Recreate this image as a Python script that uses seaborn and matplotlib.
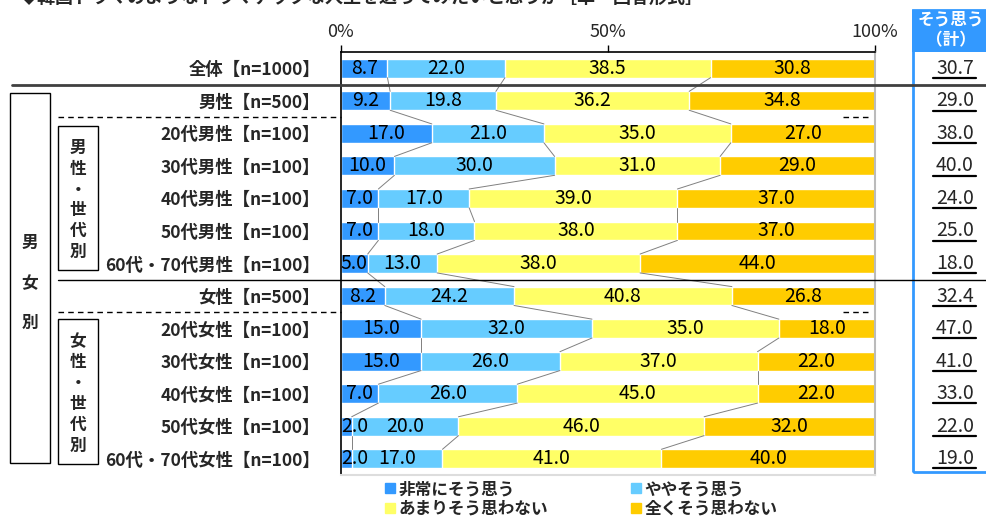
import matplotlib
matplotlib.use("Agg")
import matplotlib.pyplot as plt
import matplotlib.patches as mpatches
import matplotlib.transforms as mtransforms
from matplotlib.lines import Line2D
import seaborn as sns
import numpy as np

# Data
rows = ["全体【n=1000】", "男性【n=500】", "20代男性【n=100】", "30代男性【n=100】",
        "40代男性【n=100】", "50代男性【n=100】", "60代・70代男性【n=100】",
        "女性【n=500】", "20代女性【n=100】", "30代女性【n=100】",
        "40代女性【n=100】", "50代女性【n=100】", "60代・70代女性【n=100】"]
very = [8.7, 9.2, 17.0, 10.0, 7.0, 7.0, 5.0, 8.2, 15.0, 15.0, 7.0, 2.0, 2.0]
some = [22.0, 19.8, 21.0, 30.0, 17.0, 18.0, 13.0, 24.2, 32.0, 26.0, 26.0, 20.0, 17.0]
notmuch = [38.5, 36.2, 35.0, 31.0, 39.0, 38.0, 38.0, 40.8, 35.0, 37.0, 45.0, 46.0, 41.0]
never = [30.8, 34.8, 27.0, 29.0, 37.0, 37.0, 44.0, 26.8, 18.0, 22.0, 22.0, 32.0, 40.0]
agree_total = [30.7, 29.0, 38.0, 40.0, 24.0, 25.0, 18.0, 32.4, 47.0, 41.0, 33.0, 22.0, 19.0]
series_names = ["非常にそう思う", "ややそう思う", "あまりそう思わない", "全くそう思わない"]
colors = ["#3399FF", "#66CCFF", "#FFFF66", "#FFCC00"]
title = "◆韓国ドラマのようなドラマチックな人生を送ってみたいと思うか［単一回答形式］"

sns.set_style("white")
plt.rcParams["font.family"] = ["Noto Sans CJK JP", "DejaVu Sans"]

W, H = 987, 517
fx = lambda x: x / W
fy = lambda y: 1 - y / H

fig = plt.figure(figsize=(W / 100, H / 100), dpi=100)
ax = fig.add_axes([fx(341), fy(475), (875 - 341) / W, (475 - 52) / H])

vals = np.array([very, some, notmuch, never])
cum = np.cumsum(vals, axis=0)
bar_h = 0.58

# stacked bars: draw cumulative totals from the outside in
for k in range(3, -1, -1):
    sns.barplot(x=cum[k], y=rows, orient="h", color=colors[k], saturation=1,
                width=bar_h, ax=ax, zorder=2)

ax.set_xlim(0, 100)
ax.set_ylim(len(rows) - 0.5, -0.5)
ax.set_xlabel("")
ax.set_ylabel("")

# value labels inside the segments
for i in range(len(rows)):
    for k in range(4):
        left = cum[k][i] - vals[k][i]
        xc = max(left + vals[k][i] / 2, 2.5)
        ax.text(xc, i, f"{vals[k][i]:.1f}", ha="center", va="center",
                fontsize=14, color="black", zorder=5)

# connector lines between bars
for i in range(len(rows) - 1):
    for k in range(3):
        ax.plot([cum[k][i], cum[k][i + 1]], [i + bar_h / 2, i + 1 - bar_h / 2],
                color="#808080", lw=0.7, zorder=3)

# axes styling
ax.xaxis.tick_top()
ax.set_xticks([0, 50, 100])
ax.set_xticklabels(["0%", "50%", "100%"], fontsize=13)
ax.tick_params(axis="x", direction="out", length=5, width=1, color="black", pad=3)
ax.tick_params(axis="y", length=0, pad=15, labelsize=12.5)
for lab in ax.get_yticklabels():
    lab.set_fontweight("bold")
ax.set_yticks(np.arange(len(rows) - 1) + 0.5, minor=True)
ax.tick_params(axis="y", which="minor", direction="in", length=4, width=1, color="black")
ax.spines["top"].set_color("black")
ax.spines["top"].set_linewidth(1.2)
ax.spines["left"].set_color("black")
ax.spines["left"].set_linewidth(1.2)
ax.spines["right"].set_color("#BBBBBB")
ax.spines["right"].set_linewidth(1.5)
ax.spines["bottom"].set_color("#DDDDDD")
ax.spines["bottom"].set_linewidth(1.5)
ax.grid(False)

# separators (figure x, data y)
trans = mtransforms.blended_transform_factory(fig.transFigure, ax.transData)
fig.add_artist(Line2D([fx(12), fx(987)], [0.5, 0.5], transform=trans, color="#404040", lw=2, zorder=4))
fig.add_artist(Line2D([fx(58), fx(987)], [6.5, 6.5], transform=trans, color="black", lw=1, zorder=4))
for b in [1.5, 7.5]:
    fig.add_artist(Line2D([fx(58), fx(341)], [b, b], transform=trans, color="black",
                          lw=1, ls=(0, (4, 3)), zorder=4))
    fig.add_artist(Line2D([fx(843), fx(872)], [b, b], transform=trans, color="black",
                          lw=1, ls=(0, (4, 3)), zorder=4))

# group boxes on the left
fig.add_artist(mpatches.Rectangle((fx(10), fy(463)), (50 - 10) / W, (463 - 93) / H,
                                  transform=fig.transFigure, fill=False, ec="black", lw=1))
fig.text(fx(30), fy(283), "男\n女\n別", ha="center", va="center", fontsize=12,
         fontweight="bold", linespacing=2.6)
for top, bot, ch in [(126, 270, "男"), (319, 464, "女")]:
    fig.add_artist(mpatches.Rectangle((fx(58), fy(bot)), (98 - 58) / W, (bot - top) / H,
                                      transform=fig.transFigure, fill=False, ec="black", lw=1))
    fig.text(fx(78), fy((top + bot) / 2 + 2), f"{ch}\n性\n・\n世\n代\n別", ha="center",
             va="center", fontsize=12, fontweight="bold", linespacing=1.2)

# right column: そう思う（計）
fig.add_artist(mpatches.Rectangle((fx(912), fy(52)), (987 - 912) / W, (52 - 10) / H,
                                  transform=fig.transFigure, color="#3399FF", lw=0))
fig.add_artist(mpatches.Rectangle((fx(913), fy(472)), (1000 - 913) / W, (472 - 10) / H,
                                  transform=fig.transFigure, fill=False, ec="#3399FF", lw=2))
fig.text(fx(951), fy(19), "そう思う", ha="center", va="center", fontsize=12,
         fontweight="bold", color="white")
fig.text(fx(951), fy(40), "（計）", ha="center", va="center", fontsize=12,
         fontweight="bold", color="white")
for i, v in enumerate(agree_total):
    fig.text(fx(955), i, f"{v:.1f}", transform=trans, ha="center", va="center", fontsize=14)
    fig.add_artist(Line2D([fx(933), fx(976)], [i + 0.3, i + 0.3], transform=trans,
                          color="black", lw=1.6))

# title (cut off at the top like the source image)
fig.text(fx(20), fy(7), title, ha="left", va="bottom", fontsize=13, fontweight="bold")

# legend
handles = [mpatches.Patch(color=c) for c in colors]
order = [0, 2, 1, 3]
fig.legend([handles[j] for j in order], [series_names[j] for j in order],
           loc="upper left", bbox_to_anchor=(fx(385), fy(480)), ncol=2, frameon=False,
           borderpad=0, borderaxespad=0, handlelength=0.6, handleheight=0.6,
           handletextpad=0.2, labelspacing=0.1, columnspacing=5.0,
           prop={"size": 12, "weight": "bold"})

fig.savefig("out.png", dpi=100)
